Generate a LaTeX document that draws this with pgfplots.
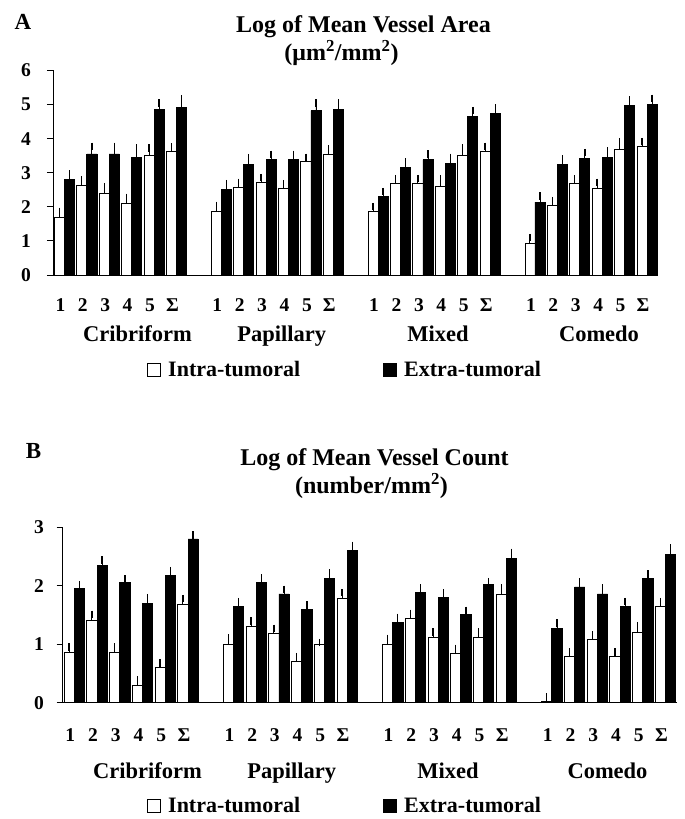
\documentclass[border=0pt]{standalone}
\usepackage{pgfplots}
\pgfplotsset{compat=1.18}
\usepackage{pgfplotstable}
\usepackage{fontspec}
\setmainfont{Liberation Serif}

% s = slot index, w = intra-tumoral, we = its error, b = extra-tumoral, be = its error
\pgfplotstableread{
s w we b be
0 1.69 0.18 2.79 0.17
1 2.64 0.14 3.55 0.22
2 2.40 0.19 3.55 0.22
3 2.09 0.19 3.46 0.26
4 3.50 0.22 4.86 0.18
5 3.63 0.13 4.91 0.26
7 1.87 0.17 2.51 0.17
8 2.56 0.16 3.23 0.21
9 2.71 0.15 3.38 0.16
10 2.55 0.13 3.38 0.16
11 3.32 0.13 4.82 0.22
12 3.55 0.14 4.86 0.18
14 1.87 0.14 2.30 0.15
15 2.68 0.15 3.15 0.17
16 2.68 0.15 3.38 0.17
17 2.60 0.23 3.28 0.17
18 3.50 0.23 4.64 0.18
19 3.63 0.14 4.75 0.15
21 0.92 0.18 2.14 0.18
22 2.05 0.13 3.23 0.17
23 2.68 0.14 3.41 0.18
24 2.55 0.17 3.46 0.18
25 3.69 0.22 4.96 0.17
26 3.77 0.14 5.01 0.17
}\dataA

\pgfplotstableread{
s w we b be
0 0.86 0.09 1.95 0.07
1 1.40 0.11 2.34 0.10
2 0.86 0.09 2.05 0.07
3 0.29 0.10 1.70 0.10
4 0.60 0.08 2.18 0.08
5 1.68 0.10 2.80 0.07
7 1.00 0.11 1.64 0.09
8 1.31 0.09 2.05 0.08
9 1.19 0.08 1.86 0.08
10 0.71 0.08 1.60 0.07
11 0.99 0.04 2.12 0.10
12 1.78 0.10 2.60 0.09
14 1.00 0.10 1.38 0.08
15 1.45 0.08 1.88 0.08
16 1.12 0.09 1.80 0.08
17 0.84 0.09 1.51 0.07
18 1.12 0.09 2.02 0.05
19 1.86 0.10 2.47 0.10
21 0.02 0.08 1.27 0.09
22 0.79 0.08 1.98 0.09
23 1.08 0.08 1.86 0.10
24 0.79 0.08 1.64 0.09
25 1.21 0.11 2.12 0.08
26 1.64 0.09 2.54 0.11
}\dataB

\newcommand{\fs}[1]{\bfseries\fontsize{#1}{#1}\selectfont}

\pgfplotsset{
  panel/.style={
    scale only axis, anchor=south west, clip=false,
    ybar, bar width=0.45,
    xmin=0, xmax=27, ymin=0,
    axis x line*=bottom, axis y line*=left,
    axis line style={line width=0.9pt, -},
    tick align=outside,
    major tick length=6pt, minor tick length=6pt,
    every tick/.style={black, line width=0.9pt},
    xtick={0.33,1.33,2.33,3.33,4.33,5.33,7.33,8.33,9.33,10.33,11.33,12.33,14.33,15.33,16.33,17.33,18.33,19.33,21.33,22.33,23.33,24.33,25.33,26.33},
    xticklabels={1,2,3,4,5,Σ,1,2,3,4,5,Σ,1,2,3,4,5,Σ,1,2,3,4,5,Σ},
    xtick style={draw=none},
    minor xtick={0,1,...,27},
    /pgf/number format/assume math mode=true,
    tick label style={font=\fs{19.5}},
    yticklabel style={anchor=east, inner sep=0pt},
    xticklabel style={anchor=base, inner sep=0pt},
    legend columns=2,
    legend style={draw=none, fill=none, anchor=west, inner sep=0pt, font=\fs{22},
      nodes={inner sep=0pt},
      /tikz/every odd column/.append style={column sep=7pt},
      /tikz/every even column/.append style={column sep=83pt}},
  },
  wbar/.style={bar shift=0pt, fill=white, draw=black, line width=0.8pt,
    legend image code/.code={\draw[fill=white, draw=black, line width=1pt] (0pt,-6.5pt) rectangle (13pt,6.5pt);},
    error bars/.cd, y dir=plus, y explicit,
    error bar style={line width=0.9pt, black},
    error mark options={line width=1.4pt, mark size=3.7pt, black}},
  bbar/.style={bar shift=0pt, fill=black, draw=black, line width=0.8pt,
    legend image code/.code={\draw[fill=black, draw=black, line width=1pt] (0pt,-6.5pt) rectangle (13pt,6.5pt);},
    error bars/.cd, y dir=plus, y explicit,
    error bar style={line width=0.9pt, black},
    error mark options={line width=1.4pt, mark size=3.7pt, black}},
}

\begin{document}
\begin{tikzpicture}
\useasboundingbox (0,0) rectangle (685pt,819pt);

% ---------- Panel A ----------
\node[font=\fs{23}, anchor=base, inner sep=0pt] at (23pt,789pt) {A};
\node[font=\fs{24}, anchor=base, inner sep=0pt] at (363.5pt,786.8pt) {Log of Mean Vessel Area};
\node[font=\fs{24}, anchor=base, inner sep=0pt] at (341.5pt,758.5pt) {(μm\textsuperscript{2}/mm\textsuperscript{2})};

\begin{axis}[panel, at={(53pt,544pt)}, width=605pt, height=204.6pt,
  ymax=6, ytick={0,1,...,6},
  yticklabel style={xshift=-16pt},
  xticklabel style={yshift=-31pt},
  legend style={at={(axis description cs:0.1554,-0.4643)}}]
\addplot[wbar] table[x expr=\thisrow{s}+0.285, y=w, y error=we] {\dataA};
\addplot[bbar] table[x expr=\thisrow{s}+0.735, y=b, y error=be] {\dataA};
\legend{Intra-tumoral, Extra-tumoral}
\end{axis}

\node[font=\fs{22.5}, anchor=base, inner sep=0pt] at (137.5pt,477.3pt) {Cribriform};
\node[font=\fs{22.5}, anchor=base, inner sep=0pt] at (281.7pt,477.3pt) {Papillary};
\node[font=\fs{22.5}, anchor=base, inner sep=0pt] at (438pt,477.3pt) {Mixed};
\node[font=\fs{22.5}, anchor=base, inner sep=0pt] at (599pt,477.3pt) {Comedo};

% ---------- Panel B ----------
\node[font=\fs{23}, anchor=base, inner sep=0pt] at (33.5pt,360.7pt) {B};
\node[font=\fs{24}, anchor=base, inner sep=0pt] at (374.5pt,353.5pt) {Log of Mean Vessel Count};
\node[font=\fs{24}, anchor=base, inner sep=0pt] at (371.5pt,325.5pt) {(number/mm\textsuperscript{2})};

\begin{axis}[panel, at={(62.7pt,116.3pt)}, width=614pt, height=175.4pt,
  ymax=3, ytick={0,1,2,3},
  yticklabel style={xshift=-12.7pt},
  xticklabel style={yshift=-33pt},
  legend style={at={(axis description cs:0.1373,-0.589)}}]
\addplot[wbar] table[x expr=\thisrow{s}+0.285, y=w, y error=we] {\dataB};
\addplot[bbar] table[x expr=\thisrow{s}+0.735, y=b, y error=be] {\dataB};
\legend{Intra-tumoral, Extra-tumoral}
\end{axis}

\node[font=\fs{22.5}, anchor=base, inner sep=0pt] at (147.5pt,40.7pt) {Cribriform};
\node[font=\fs{22.5}, anchor=base, inner sep=0pt] at (291.7pt,40.7pt) {Papillary};
\node[font=\fs{22.5}, anchor=base, inner sep=0pt] at (448pt,40.7pt) {Mixed};
\node[font=\fs{22.5}, anchor=base, inner sep=0pt] at (607.5pt,40.7pt) {Comedo};
\end{tikzpicture}
\end{document}
